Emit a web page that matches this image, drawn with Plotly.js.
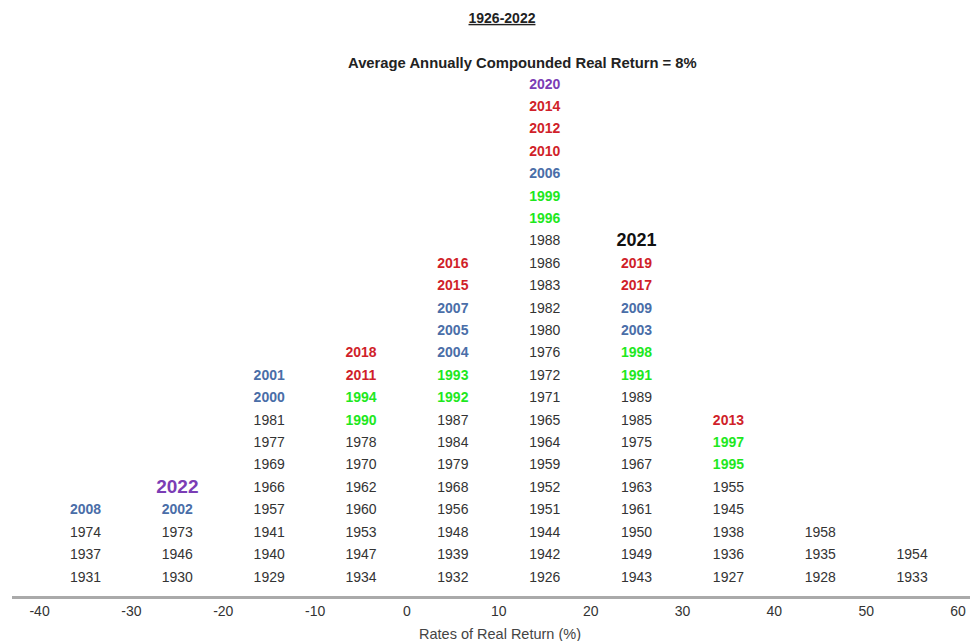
<!DOCTYPE html>
<html>
<head>
<meta charset="utf-8">
<script src="https://cdn.plot.ly/plotly-3.0.1.min.js"></script>
<style>html,body{margin:0;padding:0;background:#fff;}#chart{width:970px;height:641px;}</style>
</head>
<body>
<div id="chart"></div>
<script>
// Bin centres (rates of real return, %) for each column of years
const binCenters = [-35, -25, -15, -5, 5, 15, 25, 35, 45, 55];

// Years falling in each bin, listed bottom to top
const binM40toM30 = [1931, 1937, 1974, 2008];
const binM30toM20 = [1930, 1946, 1973, 2002, 2022];
const binM20toM10 = [1929, 1940, 1941, 1957, 1966, 1969, 1977, 1981, 2000, 2001];
const binM10to0   = [1934, 1947, 1953, 1960, 1962, 1970, 1978, 1990, 1994, 2011, 2018];
const bin0to10    = [1932, 1939, 1948, 1956, 1968, 1979, 1984, 1987, 1992, 1993, 2004, 2005, 2007, 2015, 2016];
const bin10to20   = [1926, 1942, 1944, 1951, 1952, 1959, 1964, 1965, 1971, 1972, 1976, 1980, 1982, 1983, 1986, 1988, 1996, 1999, 2006, 2010, 2012, 2014, 2020];
const bin20to30   = [1943, 1949, 1950, 1961, 1963, 1967, 1975, 1985, 1989, 1991, 1998, 2003, 2009, 2017, 2019, 2021];
const bin30to40   = [1927, 1936, 1938, 1945, 1955, 1995, 1997, 2013];
const bin40to50   = [1928, 1935, 1958];
const bin50to60   = [1933, 1954];

const allBins = [binM40toM30, binM30toM20, binM20toM10, binM10to0, bin0to10, bin10to20, bin20to30, bin30to40, bin40to50, bin50to60];

const tickVals = [-40, -30, -20, -10, 0, 10, 20, 30, 40, 50, 60];
const tickText = ['-40', '-30', '-20', '-10', '0', '10', '20', '30', '40', '50', '60'];

const FONT = 'Liberation Sans, Arial, sans-serif';
const NARROW = 'Liberation Sans Narrow, Liberation Sans, Arial, sans-serif';

// Style groups by year
function styleOf(y) {
  if (y === 2022) return 'big2022';
  if (y === 2021) return 'big2021';
  if (y === 2020) return 'purple';
  if (y >= 2010) return 'red';
  if (y >= 2000) return 'blue';
  if (y >= 1990) return 'green';
  return 'plain';
}
const styles = {
  plain:   {color: '#333333', size: 14, weight: 'normal'},
  green:   {color: '#1ee81e', size: 14, weight: 'bold'},
  blue:    {color: '#4a6ea8', size: 14, weight: 'bold'},
  red:     {color: '#d01f2a', size: 14, weight: 'bold'},
  purple:  {color: '#7b3db5', size: 14, weight: 'bold'},
  big2022: {color: '#7b3db5', size: 19, weight: 'bold'},
  big2021: {color: '#111111', size: 18, weight: 'bold'}
};

const groups = {};
Object.keys(styles).forEach(k => groups[k] = {x: [], y: [], text: []});
allBins.forEach((years, i) => {
  years.forEach((yr, j) => {
    const g = groups[styleOf(yr)];
    g.x.push(binCenters[i]);
    g.y.push(j + 1);
    g.text.push(String(yr));
  });
});

const traces = Object.keys(styles).map(k => ({
  type: 'scatter',
  mode: 'text',
  x: groups[k].x,
  y: groups[k].y,
  text: groups[k].text,
  textposition: 'middle center',
  textfont: {family: FONT, size: styles[k].size, color: styles[k].color, weight: styles[k].weight},
  hoverinfo: 'text',
  showlegend: false
}));

const L = 12, B = 45, T = 70, W = 970, H = 641;
const PW = W - L, PH = H - T - B;

const layout = {
  width: W,
  height: H,
  paper_bgcolor: '#ffffff',
  plot_bgcolor: '#ffffff',
  margin: {l: L, r: 0, t: T, b: B, pad: 0},
  title: {
    text: '<b><u>1926-2022</u></b>',
    font: {family: FONT, size: 14, color: '#222'},
    x: (502 - L) / PW, xanchor: 'center', xref: 'paper',
    y: 1 - 18 / H, yanchor: 'middle', yref: 'container'
  },
  annotations: [{
    text: '<b>Average Annually Compounded Real Return = 8%</b>',
    xref: 'paper', yref: 'paper',
    x: (522 - L) / PW, y: (H - B - 63) / PH,
    xanchor: 'center', yanchor: 'middle',
    showarrow: false,
    font: {family: FONT, size: 14.8, color: '#222'}
  }, {
    text: 'Rates of Real Return (%)',
    xref: 'paper', yref: 'paper',
    x: (500 - L) / PW, y: -(634 - (H - B)) / PH,
    xanchor: 'center', yanchor: 'middle',
    showarrow: false,
    font: {family: NARROW, size: 14.5, color: '#444'}
  }],
  xaxis: {
    range: [-43, 61.3],
    tickmode: 'array',
    tickvals: tickVals,
    ticktext: tickText,
    showgrid: false,
    zeroline: false,
    showline: true,
    linecolor: '#aaaaaa',
    linewidth: 3,
    ticks: '',
    tickfont: {family: NARROW, size: 14, color: '#333'},
    automargin: false,
    fixedrange: true
  },
  yaxis: {
    range: [0.197, 23.67],
    visible: false,
    fixedrange: true
  }
};

Plotly.newPlot('chart', traces, layout, {displayModeBar: false, staticPlot: true});
</script>
</body>
</html>
